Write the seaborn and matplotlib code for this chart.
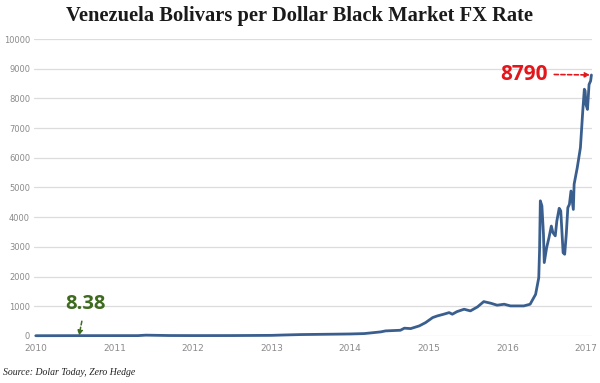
import numpy as np
import pandas as pd
import matplotlib
matplotlib.use("Agg")
import matplotlib.pyplot as plt
import seaborn as sns

# %% Data (time as decimal year)
year = [2010.00, 2010.55, 2011.00, 2011.30, 2011.40, 2011.70, 2012.00, 2012.50,
        2013.00, 2013.15, 2013.38, 2013.70, 2014.00, 2014.18, 2014.39, 2014.45,
        2014.64, 2014.69, 2014.77, 2014.88, 2014.96, 2015.05, 2015.11, 2015.19,
        2015.26, 2015.30, 2015.36, 2015.45, 2015.53, 2015.62, 2015.70, 2015.79,
        2015.87, 2015.96, 2016.04, 2016.21, 2016.29, 2016.36, 2016.40, 2016.41,
        2016.42, 2016.44, 2016.46, 2016.47, 2016.50, 2016.53, 2016.56, 2016.58,
        2016.61, 2016.63, 2016.66, 2016.68, 2016.71, 2016.73, 2016.75, 2016.77,
        2016.79, 2016.81, 2016.84, 2016.85, 2016.89, 2016.93, 2016.96, 2016.98,
        2016.99, 2017.00, 2017.02, 2017.04, 2017.06, 2017.07]
rate = [6, 8.38, 8.6, 9, 25, 12, 10, 11,
        18, 30, 45, 55, 65, 78, 135, 168,
        190, 260, 246, 337, 448, 617, 673, 730,
        785, 730, 818, 898, 842, 976, 1155, 1100,
        1034, 1067, 1010, 1010, 1067, 1400, 1960, 2860,
        4550, 4380, 3420, 2470, 2970, 3310, 3700, 3480,
        3370, 3870, 4300, 4210, 2800, 2750, 3420, 4320,
        4430, 4880, 4260, 5110, 5670, 6340, 7580, 8310,
        8250, 7800, 7630, 8470, 8590, 8790]
year_ticks = [2010, 2011, 2012, 2013, 2014, 2015, 2016, 2017]
rate_ticks = list(range(0, 10001, 1000))

df = pd.DataFrame({"year": year, "rate": rate})

# %% Plot
sns.set_style("white")
fig = plt.figure(figsize=(6, 3.83), dpi=100)
ax = fig.add_axes([0.057, 0.123, 0.93, 0.775])

sns.lineplot(data=df, x="year", y="rate", ax=ax, color="#3a5f8e",
             linewidth=2.0, clip_on=False, zorder=3)

ax.set_xlim(2009.98, 2017.08)
ax.set_ylim(0, 10000)
ax.set_xticks(year_ticks)
ax.set_xticklabels([str(y) for y in year_ticks])
ax.set_yticks(rate_ticks)
ax.set_yticklabels([str(v) for v in rate_ticks])
ax.tick_params(axis="y", length=0, labelsize=6, labelcolor="#8a8a8a", pad=3)
ax.tick_params(axis="x", length=0, labelsize=6.5, labelcolor="#8a8a8a", pad=6)
ax.grid(axis="y", color="#dcdcdc", linewidth=0.9)
ax.grid(axis="x", visible=False)
for s in ax.spines.values():
    s.set_visible(False)
ax.set_xlabel("")
ax.set_ylabel("")

# annotations
ax.annotate("8790", xy=(year[-1], rate[-1]), xytext=(2016.52, 8820),
            fontsize=15, fontweight="bold", color="#e3161c", family="Open Sans",
            ha="right", va="center",
            arrowprops=dict(arrowstyle="-|>", color="#e3161c", lw=1.2,
                            linestyle=(0, (2.5, 1.5)), mutation_scale=7,
                            shrinkA=2, shrinkB=1))
ax.annotate("8.38", xy=(year[1], rate[1]), xytext=(2010.63, 1080),
            fontsize=14.5, fontweight="bold", color="#3e6b1f", family="Open Sans",
            ha="center", va="center",
            arrowprops=dict(arrowstyle="-|>", color="#3e6b1f", lw=1.1,
                            linestyle=(0, (2.5, 1.5)), mutation_scale=7,
                            shrinkA=3, shrinkB=0))

fig.text(0.5, 0.958, "Venezuela Bolivars per Dollar Black Market FX Rate",
         ha="center", va="center", fontsize=14.8, fontweight="bold",
         family="Liberation Serif", color="#1a1a1a")
fig.text(0.005, 0.028, "Source: Dolar Today, Zero Hedge", ha="left", va="center",
         fontsize=7, style="italic", family="Liberation Serif", color="#222222")

fig.savefig("out.png", dpi=100)
